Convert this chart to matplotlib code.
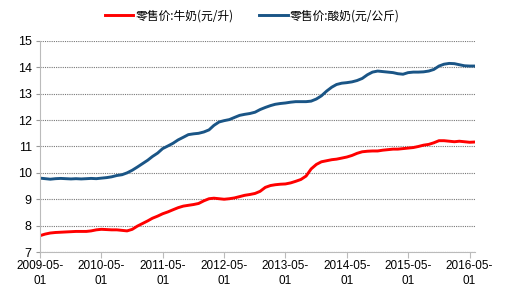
import matplotlib
matplotlib.use("Agg")
import matplotlib.pyplot as plt
import pandas as pd

plt.rcParams['font.family'] = ['Liberation Sans Narrow', 'Liberation Sans', 'Noto Sans CJK SC', 'DejaVu Sans']

dates = pd.date_range("2009-05-01", periods=86, freq="MS")

milk = [7.62, 7.68, 7.72, 7.74, 7.75, 7.76, 7.77, 7.78, 7.78, 7.78, 7.80, 7.84,
        7.86, 7.85, 7.84, 7.84, 7.82, 7.80, 7.86, 7.98, 8.08, 8.18, 8.28, 8.36,
        8.45, 8.52, 8.60, 8.68, 8.74, 8.77, 8.80, 8.84, 8.94, 9.02, 9.04, 9.02,
        9.00, 9.02, 9.05, 9.10, 9.15, 9.18, 9.22, 9.30, 9.45, 9.52, 9.55, 9.57,
        9.58, 9.62, 9.68, 9.75, 9.88, 10.15, 10.32, 10.42, 10.46, 10.50, 10.52, 10.56,
        10.60, 10.66, 10.74, 10.80, 10.82, 10.83, 10.83, 10.86, 10.88, 10.90, 10.90, 10.92,
        10.94, 10.96, 11.00, 11.05, 11.08, 11.14, 11.22, 11.22, 11.20, 11.18, 11.20, 11.18,
        11.16, 11.17]

yogurt = [9.80, 9.78, 9.76, 9.78, 9.79, 9.78, 9.77, 9.78, 9.77, 9.78, 9.79, 9.78,
          9.80, 9.82, 9.85, 9.90, 9.93, 10.00, 10.10, 10.22, 10.35, 10.48, 10.62, 10.75,
          10.92, 11.02, 11.12, 11.25, 11.35, 11.45, 11.48, 11.50, 11.55, 11.63, 11.80, 11.93,
          11.98, 12.02, 12.10, 12.18, 12.22, 12.25, 12.30, 12.40, 12.48, 12.55, 12.60, 12.63,
          12.65, 12.68, 12.70, 12.70, 12.70, 12.72, 12.80, 12.92, 13.10, 13.25, 13.35, 13.40,
          13.42, 13.45, 13.50, 13.58, 13.72, 13.82, 13.86, 13.84, 13.82, 13.80, 13.76, 13.74,
          13.80, 13.82, 13.82, 13.83, 13.86, 13.92, 14.05, 14.12, 14.15, 14.14, 14.10, 14.06,
          14.05, 14.05]

labels = ["零售价:牛奶(元/升)", "零售价:酸奶(元/公斤)"]
tick_dates = pd.date_range("2009-05-01", periods=8, freq="12MS")
tick_labels = [d.strftime("%Y-%m-") + "\n" + d.strftime("%d") for d in tick_dates]
yticks = list(range(7, 16))

fig = plt.figure(figsize=(5.2, 2.97), dpi=100)
ax = fig.add_axes([0.077, 0.1515, 0.836, 0.7105])

ax.plot(dates, milk, color="#ff0000", lw=2.1, label=labels[0])
ax.plot(dates, yogurt, color="#1a5586", lw=2.1, label=labels[1])

ax.set_ylim(7, 15)
ax.set_yticks(yticks)
ax.set_xlim(dates[0], dates[-1])
ax.set_xticks(tick_dates)
ax.set_xticklabels(tick_labels, fontsize=8.5, linespacing=1.3)
ax.tick_params(axis='y', labelsize=9, length=3, color="#999999", pad=3)
ax.tick_params(axis='x', length=4, color="#bbbbbb", pad=2)

ax.grid(axis='y', linestyle=(0, (1, 1)), color="#777777", lw=0.8)
ax.set_axisbelow(True)
for s in ["top", "right"]:
    ax.spines[s].set_visible(False)
for s in ["left", "bottom"]:
    ax.spines[s].set_color("#bbbbbb")

leg = fig.legend(loc="upper center", bbox_to_anchor=(0.485, 1.005), ncol=2, frameon=False,
                 prop={'family': ['Noto Sans CJK SC', 'DejaVu Sans'], 'size': 8.5},
                 handlelength=2.4, handletextpad=0.15, columnspacing=2.2)

fig.savefig("out.png", dpi=100)
